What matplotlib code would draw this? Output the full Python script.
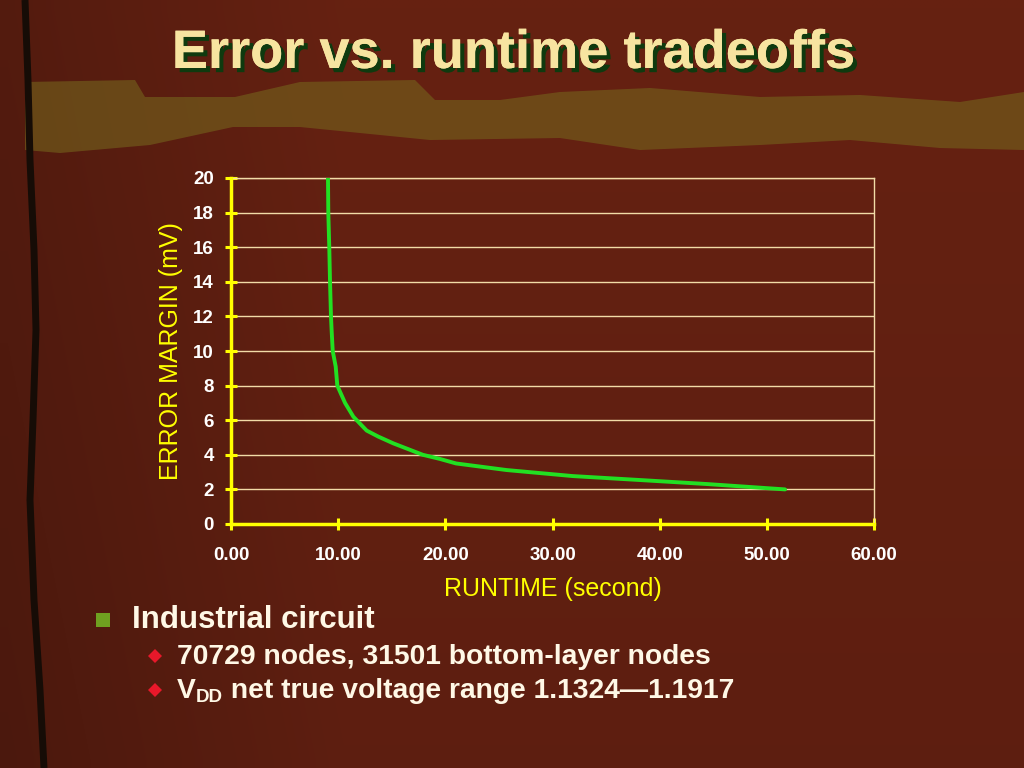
import matplotlib
matplotlib.use("Agg")
import matplotlib.pyplot as plt
from matplotlib.patches import Polygon
from matplotlib import patheffects as pe
import numpy as np

# ---- data ----
runtime_s = [9.05, 9.08, 9.17, 9.24, 9.33, 9.39, 9.49, 9.77, 9.92, 10.64, 11.42, 12.66,
             13.75, 15.15, 17.9, 19.5, 21.0, 25.7, 31.9, 38.2, 44.4, 51.7]
error_mv = [20.0, 18.0, 16.0, 14.0, 12.0, 11.2, 10.0, 9.1, 8.0, 7.0, 6.2, 5.4,
            5.05, 4.66, 4.0, 3.76, 3.5, 3.12, 2.77, 2.54, 2.31, 2.0]
x_ticks = [0, 10, 20, 30, 40, 50, 60]
x_tick_labels = ["0.00", "10.00", "20.00", "30.00", "40.00", "50.00", "60.00"]
y_ticks = [0, 2, 4, 6, 8, 10, 12, 14, 16, 18, 20]
y_tick_labels = [str(v) for v in y_ticks]

title = "Error vs. runtime tradeoffs"
xlabel = "RUNTIME (second)"
ylabel = "ERROR MARGIN (mV)"
bullet1 = "Industrial circuit"
sub1 = "70729 nodes, 31501 bottom-layer nodes"
sub2_rest = " net true voltage range 1.1324\u20141.1917"

narrow = ["Liberation Sans Narrow", "Liberation Sans", "DejaVu Sans"]
arial = ["Liberation Sans", "DejaVu Sans"]

W, H = 1024, 768
fig = plt.figure(figsize=(10.24, 7.68), dpi=100)
fig.patch.set_facecolor("#5a1c10")

# ---- background decoration ----
bg = fig.add_axes([0, 0, 1, 1], zorder=-5)
bg.set_xlim(0, W)
bg.set_ylim(H, 0)
bg.axis("off")
gx = np.linspace(0, 1, 64)
gy = np.linspace(0, 1, 48)
GX, GY = np.meshgrid(gx, gy)
shade = 0.82 + 0.18 * np.clip(GX * 3, 0, 1) - 0.08 * GY
base = np.array([0.40, 0.13, 0.07])
img = np.clip(shade[..., None] * base[None, None, :], 0, 1)
bg.imshow(img, extent=[0, W, H, 0], aspect="auto", interpolation="bilinear", zorder=0)
band = [(25, 82), (135, 80), (145, 97), (235, 97), (300, 82), (415, 80), (435, 100),
        (500, 100), (560, 92), (650, 88), (760, 97), (860, 95), (960, 102), (1024, 92),
        (1024, 150), (940, 148), (850, 140), (760, 145), (640, 150), (560, 138),
        (430, 140), (300, 127), (233, 127), (150, 145), (60, 153), (25, 150)]
bg.add_patch(Polygon(band, closed=True, facecolor="#74621c", edgecolor="none",
                     alpha=0.62, zorder=1))
crack_x = [25, 28, 30, 34, 36, 33, 30, 34, 40, 44]
crack_y = [0, 80, 160, 250, 330, 420, 500, 600, 690, 768]
bg.plot(crack_x, crack_y, color="#160c06", lw=5, solid_capstyle="butt", zorder=2)

# ---- chart ----
ax = fig.add_axes([231 / W, 1 - 524 / H, (874 - 231) / W, (524 - 178) / H])
ax.set_facecolor("none")
ax.plot(runtime_s, error_mv, color="#22e022", lw=2.8, solid_capstyle="round",
        solid_joinstyle="round", zorder=3)
ax.set_xlim(0, 60)
ax.set_ylim(0, 20)
ax.set_xticks(x_ticks)
ax.set_xticklabels(x_tick_labels)
ax.set_yticks(y_ticks)
ax.set_yticklabels(y_tick_labels)
ax.grid(axis="y", color="#f2dca8", lw=1.0)
ax.set_axisbelow(True)
for s in ["left", "bottom"]:
    ax.spines[s].set_color("#ffff00")
    ax.spines[s].set_linewidth(2.5)
    ax.spines[s].set_zorder(4)
for s in ["top", "right"]:
    ax.spines[s].set_color("#f2dca8")
    ax.spines[s].set_linewidth(1.0)
ax.tick_params(axis="both", direction="inout", length=9, width=2.2, color="#ffff00",
               labelcolor="white", labelsize=13.5)
ax.tick_params(axis="x", pad=12)
ax.tick_params(axis="y", pad=8)
for lab in ax.get_xticklabels() + ax.get_yticklabels():
    lab.set_fontweight("bold")
    lab.set_family(arial)
ax.set_xlabel(xlabel, color="#ffff00", fontsize=18, family=arial, va="center", ha="center")
ax.set_ylabel(ylabel, color="#ffff00", fontsize=18, family=arial, va="center", ha="center")
ax.xaxis.set_label_coords(0.5, (524 - 589) / (524 - 178))
ax.yaxis.set_label_coords((171 - 231) / (874 - 231), 0.5)

# ---- title ----
fig.text(513 / W, 1 - 54 / H, title, ha="center", va="center", fontsize=39,
         fontweight="bold", family=narrow, color="#f7e4a0",
         path_effects=[pe.withSimplePatchShadow(offset=(3, -3), shadow_rgbFace="#0f3a0f", alpha=1.0),
                       pe.Normal()])

# ---- bullets ----
txt_col = "#fff8e6"
bg.add_patch(Polygon([(96, 613), (110, 613), (110, 627), (96, 627)], closed=True,
                     facecolor="#6fa020", edgecolor="none", zorder=3))
fig.text(132 / W, 1 - 620 / H, bullet1, ha="left", va="center", fontsize=22.5,
         fontweight="bold", family=narrow, color=txt_col)
for yy in (656, 690):
    bg.add_patch(Polygon([(155, yy - 7), (162, yy), (155, yy + 7), (148, yy)], closed=True,
                         facecolor="#e8182a", edgecolor="none", zorder=3))
fig.text(177 / W, 1 - 657 / H, sub1, ha="left", va="center", fontsize=20.3,
         fontweight="bold", family=narrow, color=txt_col)

fig.canvas.draw()
r = fig.canvas.get_renderer()
t_v = fig.text(177 / W, 1 - 691 / H, "V", ha="left", va="center", fontsize=20.3,
               fontweight="bold", family=narrow, color=txt_col)
bb = t_v.get_window_extent(r)
t_dd = fig.text(bb.x1 / W, (bb.y0 - 2) / H, "DD", ha="left", va="bottom", fontsize=13.5,
                fontweight="bold", family=narrow, color=txt_col)
bb2 = t_dd.get_window_extent(r)
fig.text(bb2.x1 / W, 1 - 691 / H, sub2_rest, ha="left", va="center", fontsize=20.3,
         fontweight="bold", family=narrow, color=txt_col)

fig.savefig("out.png", dpi=100, facecolor=fig.get_facecolor())
